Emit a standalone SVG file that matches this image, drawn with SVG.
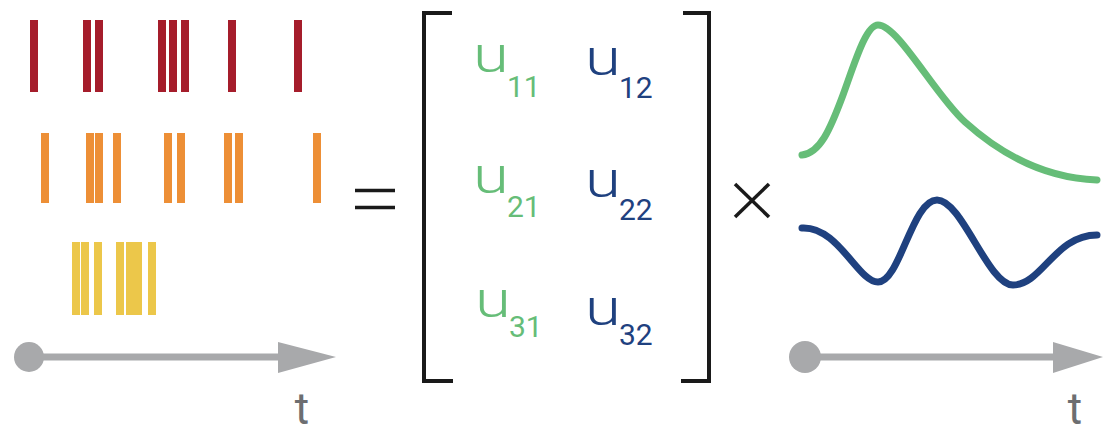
<svg xmlns="http://www.w3.org/2000/svg" width="1103" height="434" viewBox="0 0 1103 434">
<style>
.red{fill:#a51d2b}
.orange{fill:#ed8f36}
.yellow{fill:#ecc74a}
.axis{stroke:#a8a9ab;stroke-width:7;fill:none}
.axisfill{fill:#a8a9ab}
.tlabel{font-family:Roboto,"Liberation Sans",sans-serif;font-weight:400;font-size:44px;fill:#6d6e71;text-anchor:middle}
.bracket{stroke:#1a1a1a;stroke-width:4;fill:none}
.op{stroke:#1a1a1a;stroke-width:3.5;fill:none}
.u{font-family:Roboto,"Liberation Sans",sans-serif;font-weight:300;font-size:50px}
.sub{font-family:Roboto,"Liberation Sans",sans-serif;font-weight:400;font-size:30px}
.g{fill:#66bd78}
.b{fill:#1f417f}
.curve{fill:none;stroke-width:7;stroke-linecap:round}
</style>
<g id="spikes-red">
<rect class="red" x="30" y="20" width="8" height="72"/>
<rect class="red" x="83" y="20" width="8" height="72"/>
<rect class="red" x="95" y="20" width="8" height="72"/>
<rect class="red" x="158" y="20" width="8" height="72"/>
<rect class="red" x="169" y="20" width="8" height="72"/>
<rect class="red" x="181" y="20" width="8" height="72"/>
<rect class="red" x="228" y="20" width="8" height="72"/>
<rect class="red" x="294" y="20" width="8" height="72"/>
</g>
<g id="spikes-orange">
<rect class="orange" x="41" y="133" width="8" height="70"/>
<rect class="orange" x="86" y="133" width="8" height="70"/>
<rect class="orange" x="95" y="133" width="8" height="70"/>
<rect class="orange" x="113" y="133" width="8" height="70"/>
<rect class="orange" x="164" y="133" width="8" height="70"/>
<rect class="orange" x="177" y="133" width="8" height="70"/>
<rect class="orange" x="224" y="133" width="8" height="70"/>
<rect class="orange" x="235" y="133" width="8" height="70"/>
<rect class="orange" x="313" y="133" width="8" height="70"/>
</g>
<g id="spikes-yellow">
<rect class="yellow" x="72" y="242" width="8" height="73"/>
<rect class="yellow" x="81" y="242" width="8" height="73"/>
<rect class="yellow" x="94" y="242" width="8" height="73"/>
<rect class="yellow" x="116" y="242" width="8" height="73"/>
<rect class="yellow" x="126" y="242" width="8" height="73"/>
<rect class="yellow" x="134" y="242" width="8" height="73"/>
<rect class="yellow" x="148" y="242" width="8" height="73"/>
</g>
<g id="axis-left">
<circle class="axisfill" cx="29" cy="357" r="15"/>
<line class="axis" x1="29" y1="357" x2="282" y2="357"/>
<polygon class="axisfill" points="278,342 336,357 278,373"/>
<text class="tlabel" x="302" y="424">t</text>
</g>
<g id="equals">
<line class="op" x1="355" y1="190.5" x2="395" y2="190.5"/>
<line class="op" x1="355" y1="207.5" x2="395" y2="207.5"/>
</g>
<g id="matrix">
<polyline class="bracket" points="452,13 424,13 424,381 453,381"/>
<polyline class="bracket" points="683,13 709,13 709,381 681,381"/>
<text class="u g" transform="translate(473,72) scale(1.3,1)">u</text><text class="sub g" x="507" y="97">11</text>
<text class="u b" transform="translate(585,75) scale(1.3,1)">u</text><text class="sub b" x="619" y="98">12</text>
<text class="u g" transform="translate(473,193) scale(1.3,1)">u</text><text class="sub g" x="507" y="217">21</text>
<text class="u b" transform="translate(585,197) scale(1.3,1)">u</text><text class="sub b" x="619" y="220">22</text>
<text class="u g" transform="translate(475,317) scale(1.3,1)">u</text><text class="sub g" x="509" y="337">31</text>
<text class="u b" transform="translate(585,325) scale(1.3,1)">u</text><text class="sub b" x="619" y="345">32</text>
</g>
<g id="times">
<line class="op" x1="735" y1="184" x2="769" y2="217"/>
<line class="op" x1="769" y1="184" x2="735" y2="217"/>
</g>
<g id="curves">
<path class="curve" stroke="#66bd78" d="M802,155 C820,153 830,130 843,95 C855,62 866,25 878,25 C898,25 935,95 965,122 S1040,178 1097,180"/>
<path class="curve" stroke="#1f417f" d="M802,228 C838,226 858,282 878,282 C900,282 912,200 937,200 C962,200 988,285 1013,285 C1042,285 1055,235 1097,235"/>
</g>
<g id="axis-right">
<circle class="axisfill" cx="805" cy="357" r="16"/>
<line class="axis" x1="805" y1="357" x2="1058" y2="357"/>
<polygon class="axisfill" points="1053,342 1103,357 1053,373"/>
<text class="tlabel" x="1075" y="424">t</text>
</g>
</svg>
